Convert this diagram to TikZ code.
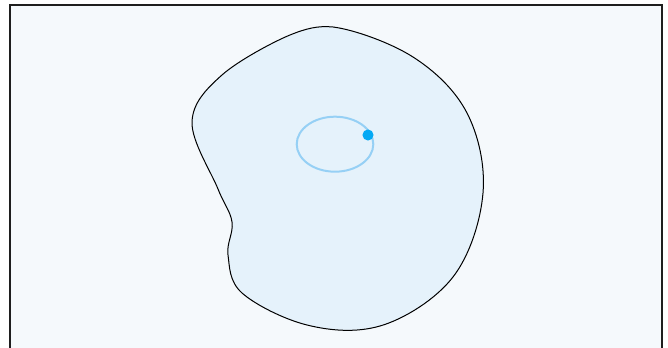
\documentclass[tikz,border=0pt]{standalone}

\tikzset{every picture/.style={line width=0.75pt}}

\begin{document}
\begin{tikzpicture}[x=0.75pt,y=0.75pt,yscale=-1,xscale=1]
\useasboundingbox (0,0) rectangle (668,348);
\clip (0,0) rectangle (668,348);

%Shape: Rectangle [id:frame] 
\draw  [color={rgb, 255:red, 30; green, 30; blue, 30 }  ,draw opacity=1 ][fill={rgb, 255:red, 245; green, 249; blue, 252 }  ,fill opacity=1 ][line width=1.5]  (9.5,5) -- (662,5) -- (662,370) -- (9.5,370) -- cycle ;
%Shape: Blob [id:region] 
\draw  [color={rgb, 255:red, 0; green, 0; blue, 0 }  ,draw opacity=1 ][fill={rgb, 255:red, 229; green, 242; blue, 251 }  ,fill opacity=1 ] (333,27) .. controls (353.5,29.5) and (390.7,42.7) .. (413,57) .. controls (435.3,71.3) and (455.3,90.3) .. (467,113) .. controls (478.7,135.7) and (485.3,165.7) .. (483,193) .. controls (480.7,220.3) and (470.2,254.7) .. (453,277) .. controls (435.8,299.3) and (404.3,319) .. (380,326) .. controls (355.7,333) and (330,330.7) .. (307,325) .. controls (284,319.3) and (255.2,304.7) .. (242,293) .. controls (229,281.3) and (229.7,266.8) .. (228,255) .. controls (226.3,243.2) and (233.7,233) .. (232,222) .. controls (230.3,211) and (224.7,205.7) .. (218,189) .. controls (211.3,172.3) and (191.3,141) .. (192,122) .. controls (192.7,103) and (205.7,89.5) .. (222,75) .. controls (238.3,60.5) and (274,41.5) .. (290,35) .. controls (306,28.5) and (318,25.5) .. (333,27) -- cycle ;
%Shape: Ellipse [id:orbit] 
\draw  [color={rgb, 255:red, 150; green, 208; blue, 245 }  ,draw opacity=1 ][line width=1.5]  (335,144.2) ellipse (38.3 and 27.5) ;
%Shape: Circle [id:point] 
\draw  [color={rgb, 255:red, 3; green, 169; blue, 244 }  ,draw opacity=1 ][fill={rgb, 255:red, 3; green, 169; blue, 244 }  ,fill opacity=1 ] (368,135) circle (5) ;

\end{tikzpicture}
\end{document}
